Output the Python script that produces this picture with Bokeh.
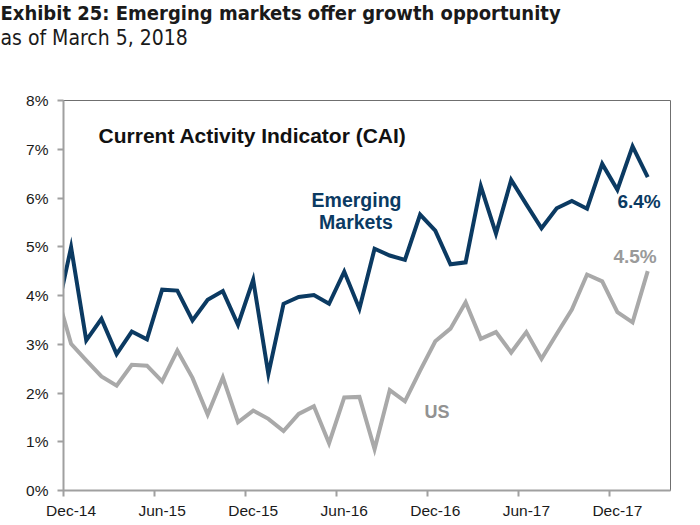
from bokeh.plotting import figure
from bokeh.models import Title, FixedTicker, Label, Range1d, PrintfTickFormatter
from bokeh.embed import file_html
from bokeh.resources import INLINE

# ---- data (monthly Current Activity Indicator, %) ----
months = ["Nov-14", "Dec-14", "Jan-15", "Feb-15", "Mar-15", "Apr-15", "May-15", "Jun-15",
          "Jul-15", "Aug-15", "Sep-15", "Oct-15", "Nov-15", "Dec-15", "Jan-16", "Feb-16",
          "Mar-16", "Apr-16", "May-16", "Jun-16", "Jul-16", "Aug-16", "Sep-16", "Oct-16",
          "Nov-16", "Dec-16", "Jan-17", "Feb-17", "Mar-17", "Apr-17", "May-17", "Jun-17",
          "Jul-17", "Aug-17", "Sep-17", "Oct-17", "Nov-17", "Dec-17", "Jan-18", "Feb-18"]
em = [3.55, 4.99, 3.08, 3.52, 2.80, 3.26, 3.10, 4.12, 4.10, 3.49, 3.91, 4.09, 3.40,
      4.32, 2.39, 3.83, 3.97, 4.01, 3.83, 4.49, 3.73, 4.96, 4.82, 4.73, 5.66, 5.33,
      4.64, 4.68, 6.24, 5.27, 6.37, 5.87, 5.38, 5.79, 5.94, 5.78, 6.70, 6.17, 7.06, 6.43]
us = [4.10, 3.01, 2.67, 2.34, 2.15, 2.58, 2.56, 2.24, 2.87, 2.31, 1.56, 2.32, 1.40,
      1.64, 1.47, 1.22, 1.57, 1.73, 0.97, 1.91, 1.92, 0.85, 2.06, 1.83, 2.46, 3.06,
      3.32, 3.86, 3.11, 3.25, 2.83, 3.25, 2.70, 3.21, 3.71, 4.43, 4.29, 3.66, 3.45, 4.50]
tick_labels = ["Dec-14", "Jun-15", "Dec-15", "Jun-16", "Dec-16", "Jun-17", "Dec-17"]
y_ticks = [0, 1, 2, 3, 4, 5, 6, 7, 8]

# month index -> x (points sit mid-month, ticks at month start)
xs = [i - 0.5 for i in range(len(months))]
label_pos = [months.index(t) - 0.5 for t in tick_labels]
tick_pos = [lp - 0.5 for lp in label_pos]

NAVY = "#0b3a62"
GRAY = "#a9a9a9"
FONT = "Liberation Sans"
NARROW = "'Liberation Sans Narrow', 'DejaVu Sans Condensed', sans-serif"

p = figure(width=700, height=525, output_backend="svg", toolbar_location=None,
           x_range=Range1d(0, 40), y_range=Range1d(0, 8),
           min_border_left=63, min_border_right=30, min_border_bottom=35, min_border_top=0)
p.background_fill_color = "white"
p.border_fill_color = "white"
p.grid.visible = False
p.outline_line_color = "#6f6f6f"
p.outline_line_width = 1

p.line(xs, us, line_color=GRAY, line_width=4, line_join="miter")
p.line(xs, em, line_color=NAVY, line_width=4, line_join="miter")

# axes
p.xaxis.ticker = FixedTicker(ticks=label_pos, minor_ticks=tick_pos)
p.xaxis.major_label_overrides = {lp: t for lp, t in zip(label_pos, tick_labels)}
p.xaxis.major_tick_line_color = None
p.xaxis.major_tick_out = 6
p.xaxis.major_tick_in = 0
p.xaxis.minor_tick_line_color = "#a0a0a0"
p.xaxis.minor_tick_line_width = 2
p.xaxis.minor_tick_out = 6
p.xaxis.minor_tick_in = 0
p.xaxis.major_label_standoff = 5

p.yaxis.ticker = FixedTicker(ticks=y_ticks, minor_ticks=[])
p.yaxis.formatter = PrintfTickFormatter(format="%d%%")
p.yaxis.major_tick_line_color = "#a0a0a0"
p.yaxis.major_tick_line_width = 2
p.yaxis.major_tick_out = 6
p.yaxis.major_tick_in = 0
p.yaxis.minor_tick_line_color = None
p.yaxis.major_label_standoff = 9

for ax in (p.xaxis, p.yaxis):
    ax.axis_line_color = "#a0a0a0"
    ax.axis_line_width = 2
    ax.major_label_text_font = FONT
    ax.major_label_text_font_size = "15.5px"
    ax.major_label_text_color = "#1a1a1a"

# titles (first added sits nearest the frame)
p.add_layout(Title(text=" ", text_font_size="10px", standoff=37), "above")
p.add_layout(Title(text="as of March 5, 2018", text_font=NARROW, text_font_size="21px",
                   text_font_style="normal", text_color="#1a1a1a", align="left",
                   offset=-63, standoff=2), "above")
p.add_layout(Title(text="Exhibit 25: Emerging markets offer growth opportunity",
                   text_font=NARROW, text_font_size="20px", text_font_style="bold",
                   text_color="#1a1a1a", align="left", offset=-63, standoff=-4), "above")

# in-chart labels
p.add_layout(Label(x=2.31, y=7.28, text="Current Activity Indicator (CAI)",
                   text_font=FONT, text_font_size="21px", text_font_style="bold",
                   text_color="#111111", text_baseline="alphabetic"))
p.add_layout(Label(x=19.31, y=5.95, text="Emerging", text_font=FONT,
                   text_font_size="19.5px", text_font_style="bold", text_color=NAVY,
                   text_align="center", text_baseline="alphabetic"))
p.add_layout(Label(x=19.27, y=5.50, text="Markets", text_font=FONT,
                   text_font_size="19.5px", text_font_style="bold", text_color=NAVY,
                   text_align="center", text_baseline="alphabetic"))
p.add_layout(Label(x=36.5, y=5.93, text=f"{em[-1]:.1f}%", text_font=FONT,
                   text_font_size="19px", text_font_style="bold", text_color=NAVY,
                   text_baseline="alphabetic"))
p.add_layout(Label(x=36.24, y=4.80, text=f"{us[-1]:.1f}%", text_font=FONT,
                   text_font_size="19px", text_font_style="bold", text_color="#9a9a9a",
                   text_baseline="alphabetic"))
p.add_layout(Label(x=23.79, y=1.62, text="US", text_font=FONT,
                   text_font_size="18px", text_font_style="bold", text_color="#929292",
                   text_baseline="alphabetic"))

open("out.html", "w").write(file_html(p, INLINE))
